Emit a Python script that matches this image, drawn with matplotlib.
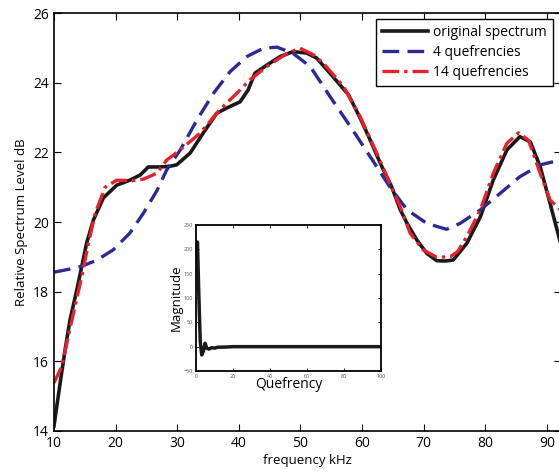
import matplotlib
matplotlib.use("Agg")
import matplotlib.pyplot as plt

plt.rcParams['font.family'] = ['Open Sans', 'DejaVu Sans']

# original spectrum (black)
f_orig = [10.0, 11.0, 11.8, 12.6, 13.7, 14.5, 15.3, 16.4, 18.0, 20.2, 22.3, 24.0, 25.3,
          27.2, 28.8, 29.9, 32.1, 34.2, 36.4, 38.0, 40.2, 41.5, 42.6, 44.5, 46.7, 48.8,
          51.0, 52.6, 54.8, 57.8, 59.7, 61.3, 63.2, 64.8, 66.2, 67.3, 68.9, 70.5, 72.1,
          73.5, 74.8, 77.0, 79.2, 81.3, 83.5, 85.6, 87.3, 88.9, 90.5, 92.2]
db_orig = [14.15, 15.38, 16.33, 17.19, 18.05, 18.72, 19.4, 20.06, 20.69, 21.06, 21.2, 21.35,
           21.58, 21.58, 21.6, 21.64, 21.98, 22.55, 23.12, 23.27, 23.45, 23.79, 24.27, 24.5,
           24.75, 24.89, 24.85, 24.71, 24.27, 23.65, 22.98, 22.36, 21.59, 21.01, 20.35, 19.96,
           19.48, 19.1, 18.89, 18.88, 18.91, 19.39, 20.15, 21.21, 22.07, 22.45, 22.3, 21.59,
           20.54, 19.4]

# 4 quefrencies (blue)
f_q4 = [10.0, 12.6, 14.5, 16.9, 19.6, 22.3, 24.5, 26.7, 28.3, 30.5, 33.2, 35.9, 38.6, 41.3,
        44.0, 46.2, 48.8, 51.6, 54.8, 58.1, 61.3, 64.5, 67.3, 70.5, 73.7, 75.9, 79.2, 82.4,
        85.6, 88.9, 92.2]
db_q4 = [18.56, 18.65, 18.73, 18.9, 19.2, 19.68, 20.25, 20.9, 21.5, 22.07, 22.93, 23.7,
         24.32, 24.75, 24.99, 25.02, 24.84, 24.46, 23.6, 22.74, 21.88, 21.01, 20.35, 19.96,
         19.79, 19.96, 20.35, 20.82, 21.3, 21.64, 21.78]

# 14 quefrencies (red)
f_q14 = [10.0, 11.25, 12.3, 13.4, 14.5, 15.6, 16.7, 18.3, 20.2, 22.9, 24.5, 26.7, 28.3,
         30.5, 33.7, 36.9, 39.7, 41.8, 44.5, 47.8, 49.9, 52.1, 53.7, 57.0, 59.7, 62.4, 64.5,
         66.2, 67.8, 69.9, 72.1, 74.3, 75.5, 77.0, 79.2, 81.3, 83.5, 85.4, 87.0, 88.9, 90.5,
         92.2]
db_q14 = [15.38, 15.85, 16.71, 17.57, 18.43, 19.4, 20.25, 21.0, 21.2, 21.19, 21.23, 21.4,
          21.78, 22.07, 22.55, 23.22, 23.7, 24.08, 24.46, 24.84, 24.99, 24.8, 24.56, 23.89,
          23.02, 21.97, 21.11, 20.44, 19.68, 19.2, 18.99, 19.0, 19.15, 19.58, 20.35, 21.4,
          22.26, 22.56, 22.35, 21.4, 20.63, 20.35]

# inset cepstrum
quef = [0.3, 0.8, 1.5, 2.3, 3.1, 4.0, 4.9, 5.8, 7.0, 8.5, 10, 12, 15, 20, 30, 100]
magn = [205, 215, 110, 10, -17, -9, 7, -3, -5, -2, -3, -1, -1, 0, 0, 0]

fig = plt.figure(figsize=(5.59, 4.74), dpi=100)
ax = fig.add_axes([54/559, 43/474, 506.5/559, 418/474])

ax.plot(f_orig, db_orig, color='#1a1a1a', linewidth=2.6, label='original spectrum')
ax.plot(f_q4, db_q4, color='#2b2b96', linewidth=2.4, linestyle=(0, (5, 2.5)),
        label='4 quefrencies')
ax.plot(f_q14, db_q14, color='#e8202a', linewidth=2.4, linestyle=(0, (5, 1.5, 1, 1.5)),
        label='14 quefrencies')

ax.set_xlim(10, 92.2)
ax.set_ylim(14, 26)
ax.set_xticks(range(10, 100, 10))
ax.set_yticks(range(14, 27, 2))
ax.tick_params(direction='in', top=True, right=True, labelsize=10, length=5, width=0.8)
for s in ax.spines.values():
    s.set_linewidth(1.2)
ax.set_xlabel('frequency kHz', fontsize=9.5, labelpad=2)
ax.set_ylabel('Relative Spectrum Level dB', fontsize=9.5, labelpad=4)

leg = ax.legend(loc='upper right', bbox_to_anchor=(553/559, 1 - 19/474),
                bbox_transform=fig.transFigure, fontsize=10, fancybox=False,
                borderaxespad=0, handlelength=3.3, handletextpad=0.35,
                borderpad=0.45, labelspacing=0.35, framealpha=1)
leg.get_frame().set_edgecolor('black')
leg.get_frame().set_linewidth(1.0)

ins = fig.add_axes([196/559, 103/474, 185/559, 146/474])
ins.plot(quef, magn, color='#1a1a1a', linewidth=2.5)
ins.set_xlim(0, 100)
ins.set_ylim(-50, 250)
ins.set_xticks(range(0, 101, 20))
ins.set_yticks(range(-50, 251, 50))
ins.tick_params(direction='in', top=True, right=True, labelsize=4, length=2.5, width=0.6,
                pad=2, labelcolor='#555555')
for s in ins.spines.values():
    s.set_linewidth(1.3)
ins.set_xlabel('Quefrency', fontsize=10, labelpad=-1)
ins.set_ylabel('Magnitude', fontsize=9.5, labelpad=1)

fig.savefig('out.png', dpi=100)
